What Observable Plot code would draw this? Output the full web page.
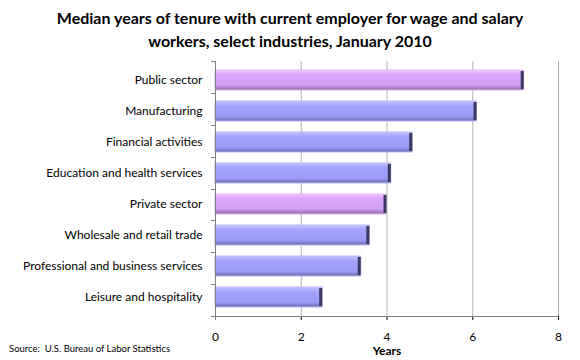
<!DOCTYPE html>
<html><head><meta charset="utf-8">
<script src="https://cdn.jsdelivr.net/npm/d3@7"></script>
<script src="https://cdn.jsdelivr.net/npm/@observablehq/plot@0.6"></script>
<style>
body{margin:0;background:#fff;font-family:Lato,"Open Sans",sans-serif;}
#wrap{position:relative;width:580px;height:360px;}
#title{position:absolute;left:0;top:6px;width:580px;text-align:center;font-weight:bold;font-size:16px;line-height:23px;color:#000;}
#source{position:absolute;left:9px;top:343px;font-size:9.5px;color:#000;}
#chart{position:absolute;left:0;top:52px;}
</style></head>
<body><div id="wrap">
<div id="title">Median years of tenure with current employer for wage and salary<br>workers, select industries, January 2010</div>
<div id="chart"></div>
<div id="source">Source:&nbsp; U.S. Bureau of Labor Statistics</div>
</div>
<script>
const categories = ["Public sector","Manufacturing","Financial activities","Education and health services","Private sector","Wholesale and retail trade","Professional and business services","Leisure and hospitality"];
const values = [7.2, 6.1, 4.6, 4.1, 4.0, 3.6, 3.4, 2.5];
const highlighted = ["Public sector","Private sector"];
const xTicks = [0, 2, 4, 6, 8];

const data = categories.map((c, i) => ({category: c, value: values[i]}));
const isHi = d => highlighted.includes(d.category);
const pad = 0.34;

const plot = Plot.plot({
  width: 580, height: 308,
  marginLeft: 215, marginRight: 22, marginTop: 9, marginBottom: 44,
  style: {fontFamily: "Lato, 'Open Sans', sans-serif", fontSize: "12px", color: "#000"},
  x: {domain: [0, 8], ticks: xTicks},
  y: {domain: categories, paddingInner: pad, paddingOuter: pad / 2, label: null},
  marks: [
    Plot.gridX({ticks: [2, 4, 6, 8], stroke: "#b4b4b4", strokeOpacity: 1}),
    Plot.barX(data.filter(d => !isHi(d)), {x: "value", y: "category", fill: "url(#gBlue)", stroke: "#b8b8f4", strokeWidth: 1}),
    Plot.barX(data.filter(isHi), {x: "value", y: "category", fill: "url(#gPurple)", stroke: "#e4b8fa", strokeWidth: 1}),
    Plot.barX(data, {x1: d => d.value - 0.07, x2: "value", y: "category", fill: "#3a3a60", insetTop: 1, insetBottom: 1}),
    Plot.axisX({ticks: xTicks, tickSize: 4, tickPadding: 12, label: "Years", labelAnchor: "center", labelArrow: "none", labelOffset: 38, fontSize: 12}),
    Plot.axisY({tickSize: 0, tickPadding: 13, label: null, fontSize: 12})
  ]
});
document.getElementById("chart").appendChild(plot);

const svg = d3.select(plot);
const defs = svg.insert("defs", ":first-child");
function grad(id, stops) {
  const g = defs.append("linearGradient").attr("id", id).attr("x1", 0).attr("y1", 0).attr("x2", 0).attr("y2", 1);
  stops.forEach(([o, c]) => g.append("stop").attr("offset", o).attr("stop-color", c));
}
grad("gBlue", [[0, "#c4c4ff"], [0.15, "#b0b0ff"], [0.25, "#a2a2fc"], [0.75, "#9c9cf6"], [0.85, "#8a8ae0"], [1, "#6a6aa8"]]);
grad("gPurple", [[0, "#f0c8ff"], [0.15, "#e2b0ff"], [0.25, "#d8a4fc"], [0.75, "#d2a0f6"], [0.85, "#b888d8"], [1, "#8a68a0"]]);

// Excel-style axis lines and category boundary ticks
const ys = plot.scale("y"), xs = plot.scale("x");
const [y0, y1] = ys.range;
const xa = xs.apply(0), xb = xs.apply(8);
const g = svg.append("g").attr("stroke", "#808080").attr("stroke-width", 1);
g.append("line").attr("x1", xa + 0.5).attr("x2", xa + 0.5).attr("y1", y0).attr("y2", y1 + 4);
g.append("line").attr("x1", xa).attr("x2", xb + 0.5).attr("y1", y1 + 0.5).attr("y2", y1 + 0.5);
for (let k = 0; k <= categories.length; k++) {
  const yy = Math.round(y0 + k * (y1 - y0) / categories.length) + 0.5;
  g.append("line").attr("x1", xa - 4).attr("x2", xa).attr("y1", yy).attr("y2", yy);
}
svg.selectAll("[aria-label='x-axis label'] text").attr("font-weight", "bold");
</script>
</body></html>
